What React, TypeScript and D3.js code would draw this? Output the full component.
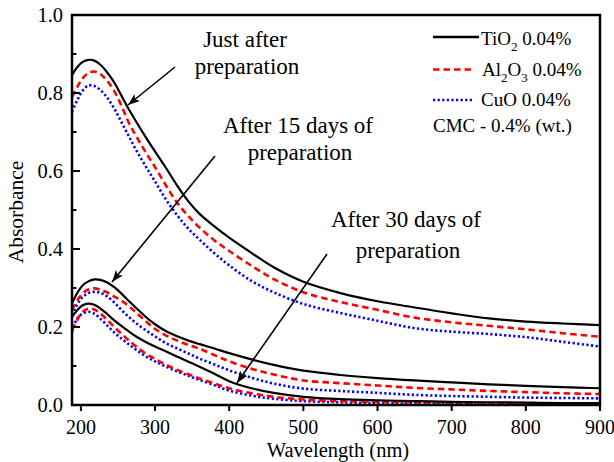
import React from "react";
import * as d3 from "d3";

const wavelengths = [188, 195, 202, 210, 218, 226, 235, 245, 255, 265, 275, 288, 300, 315, 330, 345, 360, 380, 400, 430, 460, 500, 550, 600, 650, 700, 750, 800, 850, 900];

// Just after preparation
const tio2Day0 = [0.846, 0.866, 0.879, 0.885, 0.883, 0.873, 0.854, 0.827, 0.792, 0.757, 0.725, 0.685, 0.650, 0.607, 0.562, 0.522, 0.490, 0.458, 0.429, 0.390, 0.353, 0.316, 0.287, 0.266, 0.250, 0.235, 0.222, 0.214, 0.209, 0.205];
const al2o3Day0 = [0.790, 0.815, 0.837, 0.851, 0.855, 0.849, 0.832, 0.805, 0.766, 0.722, 0.688, 0.646, 0.610, 0.562, 0.518, 0.484, 0.455, 0.422, 0.395, 0.357, 0.323, 0.289, 0.264, 0.244, 0.224, 0.212, 0.203, 0.194, 0.184, 0.175];
const cuoDay0 = [0.752, 0.781, 0.805, 0.819, 0.818, 0.808, 0.789, 0.760, 0.724, 0.688, 0.652, 0.610, 0.573, 0.526, 0.486, 0.452, 0.424, 0.389, 0.358, 0.318, 0.289, 0.259, 0.236, 0.216, 0.197, 0.188, 0.182, 0.174, 0.162, 0.150];

// After 15 days
const tio2Day15 = [0.261, 0.287, 0.306, 0.317, 0.322, 0.321, 0.315, 0.302, 0.285, 0.266, 0.248, 0.225, 0.207, 0.189, 0.176, 0.165, 0.156, 0.145, 0.133, 0.117, 0.103, 0.088, 0.077, 0.069, 0.063, 0.058, 0.053, 0.049, 0.046, 0.043];
const al2o3Day15 = [0.244, 0.268, 0.285, 0.296, 0.299, 0.296, 0.289, 0.278, 0.267, 0.253, 0.236, 0.214, 0.195, 0.178, 0.165, 0.154, 0.144, 0.128, 0.112, 0.093, 0.078, 0.063, 0.056, 0.050, 0.044, 0.040, 0.036, 0.033, 0.030, 0.028];
const cuoDay15 = [0.231, 0.258, 0.276, 0.287, 0.290, 0.288, 0.279, 0.263, 0.243, 0.225, 0.209, 0.191, 0.176, 0.158, 0.145, 0.132, 0.119, 0.104, 0.089, 0.070, 0.055, 0.042, 0.036, 0.031, 0.026, 0.023, 0.021, 0.019, 0.018, 0.017];

// After 30 days
const tio2Day30 = [0.226, 0.243, 0.255, 0.260, 0.257, 0.248, 0.234, 0.217, 0.202, 0.188, 0.175, 0.161, 0.150, 0.137, 0.124, 0.111, 0.098, 0.080, 0.061, 0.043, 0.031, 0.021, 0.015, 0.012, 0.010, 0.008, 0.007, 0.006, 0.005, 0.005];
const al2o3Day30 = [0.192, 0.218, 0.238, 0.247, 0.245, 0.235, 0.219, 0.200, 0.182, 0.165, 0.149, 0.131, 0.118, 0.103, 0.090, 0.079, 0.068, 0.055, 0.043, 0.030, 0.021, 0.014, 0.010, 0.008, 0.007, 0.006, 0.005, 0.005, 0.004, 0.004];
const cuoDay30 = [0.188, 0.222, 0.234, 0.239, 0.234, 0.222, 0.205, 0.186, 0.170, 0.155, 0.141, 0.124, 0.112, 0.098, 0.086, 0.075, 0.064, 0.051, 0.037, 0.024, 0.016, 0.010, 0.007, 0.005, 0.004, 0.003, 0.003, 0.003, 0.002, 0.002];

const xTicks = [200, 300, 400, 500, 600, 700, 800, 900];
const yTicksMajor = [0, 0.2, 0.4, 0.6, 0.8, 1.0];
const yTicksMinor = [0.1, 0.3, 0.5, 0.7, 0.9];

const styles = {
  tio2: { stroke: "#000000", width: 2.2, dash: "none" },
  al2o3: { stroke: "#ff0000", width: 2.6, dash: "6.5,4" },
  cuo: { stroke: "#0000ff", width: 2.6, dash: "2.2,2.4" },
};

const seriesList = [
  { key: "cuo", values: cuoDay30 },
  { key: "al2o3", values: al2o3Day30 },
  { key: "tio2", values: tio2Day30 },
  { key: "cuo", values: cuoDay15 },
  { key: "al2o3", values: al2o3Day15 },
  { key: "tio2", values: tio2Day15 },
  { key: "cuo", values: cuoDay0 },
  { key: "al2o3", values: al2o3Day0 },
  { key: "tio2", values: tio2Day0 },
];

const W = 614;
const H = 462;
const L = 72, R = 600, T = 15, B = 405;
const FONT = "'Liberation Serif', 'Times New Roman', Times, serif";

export default function App() {
  const x = d3.scaleLinear().domain([188, 900]).range([L, R]);
  const y = d3.scaleLinear().domain([0, 1]).range([B, T]);
  const line = d3
    .line<number>()
    .x((_, i) => x(wavelengths[i]))
    .y((d) => y(d))
    .curve(d3.curveCatmullRom.alpha(0.5));

  const arrows = [
    { x1: 175, y1: 67, x2: 128, y2: 105 },
    { x1: 215, y1: 156, x2: 112, y2: 282 },
    { x1: 327, y1: 254, x2: 237, y2: 383 },
  ];

  return (
    <div style={{ position: "fixed", left: 0, top: 0 }}>
      <svg width={W} height={H} style={{ display: "block", background: "#fff" }} fontFamily={FONT}>
        <defs>
          <clipPath id="plotClip">
            <rect x={L} y={T} width={R - L} height={B - T} />
          </clipPath>
          <marker id="arrowHead" markerUnits="userSpaceOnUse" markerWidth="14" markerHeight="10" refX="12" refY="4.5" orient="auto">
            <path d="M0,0 L12,4.5 L0,9 L3,4.5 z" fill="#000" />
          </marker>
        </defs>

        <g clipPath="url(#plotClip)">
          {seriesList.map((s, i) => {
            const st = (styles as any)[s.key];
            return (
              <path
                key={i}
                d={line(s.values) || ""}
                fill="none"
                stroke={st.stroke}
                strokeWidth={st.width}
                strokeDasharray={st.dash}
              />
            );
          })}
        </g>

        {/* frame */}
        <rect x={L} y={T} width={R - L} height={B - T} fill="none" stroke="#000" strokeWidth={2.5} />

        {/* y ticks */}
        {yTicksMajor.map((t) => (
          <g key={"ym" + t}>
            <line x1={L} x2={L + 8} y1={y(t)} y2={y(t)} stroke="#000" strokeWidth={2} />
            <text x={63} y={y(t)} dy="0.35em" textAnchor="end" fontSize={20.5}>
              {t.toFixed(1)}
            </text>
          </g>
        ))}
        {yTicksMinor.map((t) => (
          <line key={"yn" + t} x1={L} x2={L + 4.5} y1={y(t)} y2={y(t)} stroke="#000" strokeWidth={2} />
        ))}

        {/* x ticks */}
        {xTicks.map((t) => (
          <g key={"x" + t}>
            <line x1={x(t)} x2={x(t)} y1={B} y2={B + 6} stroke="#000" strokeWidth={2} />
            <text x={x(t)} y={434} textAnchor="middle" fontSize={20}>
              {t}
            </text>
          </g>
        ))}

        <text x={338} y={457} textAnchor="middle" fontSize={20.5}>
          Wavelength (nm)
        </text>
        <text transform={`translate(23,212) rotate(-90)`} textAnchor="middle" fontSize={21.5}>
          Absorbance
        </text>

        {/* annotations */}
        <g fontSize={23} textAnchor="middle">
          <text x={245} y={47}>Just after</text>
          <text x={247} y={74}>preparation</text>
          <text x={298} y={133}>After 15 days of</text>
          <text x={300} y={160}>preparation</text>
          <text x={406} y={227}>After 30 days of</text>
          <text x={408} y={258}>preparation</text>
        </g>
        {arrows.map((a, i) => (
          <line key={"a" + i} x1={a.x1} y1={a.y1} x2={a.x2} y2={a.y2} stroke="#000" strokeWidth={1.6} markerEnd="url(#arrowHead)" />
        ))}

        {/* legend */}
        <g fontSize={19}>
          <line x1={433} x2={479} y1={37} y2={37} stroke="#000" strokeWidth={2.4} />
          <text x={481} y={45}>
            TiO<tspan fontSize={13} dy={6}>2</tspan>
            <tspan dy={-6}> 0.04%</tspan>
          </text>
          <line x1={433} x2={472} y1={69.5} y2={69.5} stroke="#ff0000" strokeWidth={2.6} strokeDasharray="6.5,4" />
          <text x={482} y={76}>
            Al<tspan fontSize={13} dy={6}>2</tspan>
            <tspan dy={-6}>O</tspan>
            <tspan fontSize={13} dy={6}>3</tspan>
            <tspan dy={-6}> 0.04%</tspan>
          </text>
          <line x1={433} x2={474} y1={100} y2={100} stroke="#0000ff" strokeWidth={2.4} strokeDasharray="2.2,2.4" />
          <text x={481} y={105.5}>CuO 0.04%</text>
          <text x={433} y={132}>CMC - 0.4% (wt.)</text>
        </g>
      </svg>
    </div>
  );
}
